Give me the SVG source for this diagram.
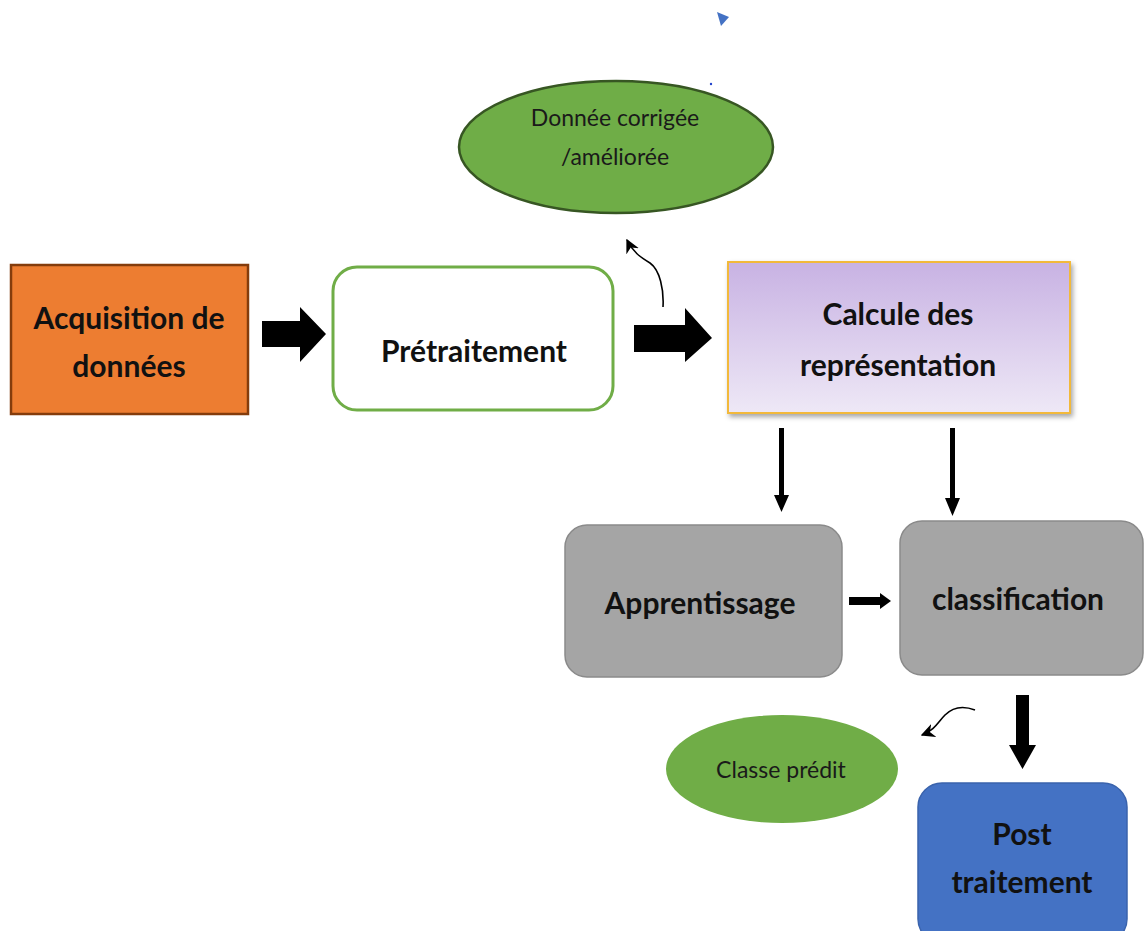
<svg xmlns="http://www.w3.org/2000/svg" width="1144" height="931" viewBox="0 0 1144 931">
<defs>
<linearGradient id="gPurple" x1="0" y1="0" x2="0" y2="1">
<stop offset="0" stop-color="#C8B2E3"/>
<stop offset="1" stop-color="#EEE8F6"/>
</linearGradient>
<filter id="shadow" x="-10%" y="-10%" width="130%" height="130%">
<feDropShadow dx="2" dy="3" stdDeviation="2.5" flood-color="#000" flood-opacity="0.35"/>
</filter>
<marker id="curveHead" viewBox="0 0 10 10" refX="9" refY="5" markerWidth="14" markerHeight="14" orient="auto" markerUnits="userSpaceOnUse">
<path d="M0,0 L10,5 L0,10 L3,5 Z" fill="#000"/>
</marker>
</defs>
<style>
.bold{font-family:Lato,"Open Sans","Liberation Sans",sans-serif;font-weight:bold;font-size:30px;fill:#111;text-anchor:middle}
.reg{font-family:Lato,"Open Sans","Liberation Sans",sans-serif;font-size:23px;fill:#1a1a1a;text-anchor:middle}
.blk{fill:#000}
</style>
<rect width="1144" height="931" fill="#fff"/>

<g id="connectors">
<polygon class="blk" points="262,321 300,321 300,307 326,334 300,362 300,347 262,347"/>
<polygon class="blk" points="634,325 685,325 685,308 712,338 685,362 685,352 634,352"/>
<path d="M663,307 C664,290 660,270 650,263 C640,257 633,252 627,240" fill="none" stroke="#000" stroke-width="1.6" marker-end="url(#curveHead)"/>
<polygon class="blk" points="779,428 784,428 784,495 789,495 781.5,512 774,495 779,495"/>
<polygon class="blk" points="950,428 955,428 955,498 960,498 952.5,516 945,498 950,498"/>
<polygon class="blk" points="849,597 880,597 880,593 891,601 880,609 880,605 849,605"/>
<path d="M975,710 C962,705 952,708 945,715 C938,722 935,730 922,735" fill="none" stroke="#000" stroke-width="1.6" marker-end="url(#curveHead)"/>
<polygon class="blk" points="1016,695 1029,695 1029,745 1036,745 1022.5,769 1009,745 1016,745"/>
</g>

<g id="marker-artifact">
<polygon points="717,12 729,17 721,26" fill="#4472C4"/>
<circle cx="711" cy="84" r="1.2" fill="#2244cc"/>
</g>

<g id="node-acquisition">
<rect x="11" y="265" width="237" height="149" fill="#ED7D31" stroke="#843C0C" stroke-width="2.5"/>
<text class="bold" x="129" y="329">Acquisition de</text>
<text class="bold" x="129" y="377">données</text>
</g>

<g id="node-pretraitement">
<rect x="333" y="267" width="280" height="143" rx="24" fill="#fff" stroke="#70AD47" stroke-width="3"/>
<text class="bold" x="474" y="362">Prétraitement</text>
</g>

<g id="node-calcul">
<rect x="728" y="262" width="342" height="151" fill="url(#gPurple)" stroke="#F2B93B" stroke-width="2" filter="url(#shadow)"/>
<text class="bold" x="898" y="325">Calcule des</text>
<text class="bold" x="898" y="376">représentation</text>
</g>

<g id="node-donnee">
<ellipse cx="616" cy="147" rx="157" ry="66" fill="#6FAD47" stroke="#375623" stroke-width="2.5"/>
<text class="reg" x="615" y="126">Donnée corrigée</text>
<text class="reg" x="615" y="165">/améliorée</text>
</g>

<g id="node-apprentissage">
<rect x="565" y="525" width="277" height="152" rx="22" fill="#A5A5A5" stroke="#8A8A8A" stroke-width="1.5"/>
<text class="bold" x="700" y="614">Apprentissage</text>
</g>

<g id="node-classification">
<rect x="900" y="521" width="243" height="154" rx="22" fill="#A5A5A5" stroke="#8A8A8A" stroke-width="1.5"/>
<text class="bold" x="1018" y="610">classification</text>
</g>

<g id="node-classe">
<ellipse cx="782" cy="769" rx="116" ry="54" fill="#70AD47"/>
<text class="reg" x="781" y="778">Classe prédit</text>
</g>

<g id="node-post">
<rect x="918" y="783" width="209" height="160" rx="24" fill="#4472C4" stroke="#3A63AC" stroke-width="1.5"/>
<text class="bold" x="1022" y="845">Post</text>
<text class="bold" x="1022" y="893">traitement</text>
</g>
</svg>
